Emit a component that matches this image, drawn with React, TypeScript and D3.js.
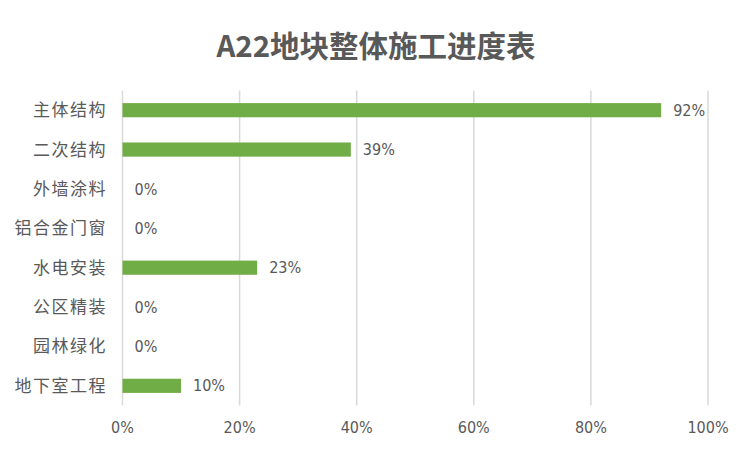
import React from "react";
import * as d3 from "d3";

const categories = ["主体结构", "二次结构", "外墙涂料", "铝合金门窗", "水电安装", "公区精装", "园林绿化", "地下室工程"];
const values = [0.92, 0.39, 0, 0, 0.23, 0, 0, 0.10];
const ticks = [0, 0.2, 0.4, 0.6, 0.8, 1.0];
const title = "A22地块整体施工进度表";

const W = 750, H = 449;
const margin = { left: 122.5, right: 42, top: 90.5, bottom: 43.5 };

export default function App() {
  const x = d3.scaleLinear().domain([0, 1]).range([margin.left, W - margin.right]);
  const y = d3.scaleBand<string>().domain(categories).range([margin.top, H - margin.bottom]).paddingInner(0.64).paddingOuter(0.32);
  const fmt = d3.format(".0%");
  const numFont = "'Liberation Sans Narrow', 'DejaVu Sans Condensed', Arial, sans-serif";
  const cjkFont = "'Noto Sans CJK SC', sans-serif";
  return (
    <svg width={W} height={H} style={{ position: "absolute", left: 0, top: 0, background: "#fff" }}>
      <text x={376} y={57} textAnchor="middle" fontFamily={cjkFont} fontWeight="bold" fontSize={29.5} fill="#595959">{title}</text>
      {ticks.map((t) => (
        <g key={t}>
          <line x1={x(t)} x2={x(t)} y1={margin.top} y2={H - margin.bottom} stroke="#d9d9d9" strokeWidth={1.5} />
          <text x={x(t)} y={433} textAnchor="middle" fontFamily={numFont} fontSize={16} fill="#595959">{fmt(t)}</text>
        </g>
      ))}
      {categories.map((c, i) => {
        const yc = (y(c) as number) + y.bandwidth() / 2;
        return (
          <g key={c}>
            <text x={107} y={yc} dy="0.35em" textAnchor="end" fontFamily={cjkFont} fontSize={17} letterSpacing={1.5} fill="#595959">{c}</text>
            <rect x={x(0)} y={y(c)} width={x(values[i]) - x(0)} height={y.bandwidth()} fill="#70AD47" />
            <text x={x(values[i]) + 12} y={yc} dy="0.35em" fontFamily={numFont} fontSize={16} fill="#595959">{fmt(values[i])}</text>
          </g>
        );
      })}
    </svg>
  );
}
